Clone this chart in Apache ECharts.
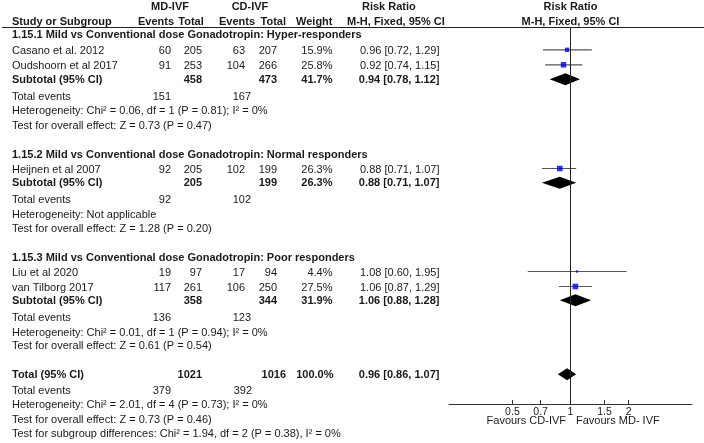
<!DOCTYPE html>
<html>
<head>
<meta charset="utf-8">
<script src="https://cdn.jsdelivr.net/npm/echarts@6/dist/echarts.min.js"></script>
<style>html,body{margin:0;padding:0;background:#fff}#c{width:704px;height:443px}</style>
</head>
<body>
<div id="c"></div>
<script>
// ---------- DATA ----------
const studies = ['Casano et al. 2012', 'Oudshoorn et al 2017', 'Heijnen et al 2007', 'Liu et al 2020', 'van Tilborg 2017'];
const studyGroup = [0, 0, 1, 2, 2];
const mdEvents = [60, 91, 92, 19, 117];
const mdTotal = [205, 253, 205, 97, 261];
const cdEvents = [63, 104, 102, 17, 106];
const cdTotal = [207, 266, 199, 94, 250];
const weights = [15.9, 25.8, 26.3, 4.4, 27.5];
const rr = [0.96, 0.92, 0.88, 1.08, 1.06];
const rrLow = [0.72, 0.74, 0.71, 0.60, 0.87];
const rrHigh = [1.29, 1.15, 1.07, 1.95, 1.29];

const groupTitles = [
  '1.15.1 Mild vs Conventional dose Gonadotropin: Hyper-responders',
  '1.15.2 Mild vs Conventional dose Gonadotropin: Normal responders',
  '1.15.3 Mild vs Conventional dose Gonadotropin: Poor responders'
];
const subMdTotal = [458, 205, 358];
const subCdTotal = [473, 199, 344];
const subWeight = [41.7, 26.3, 31.9];
const subRR = [0.94, 0.88, 1.06];
const subLow = [0.78, 0.71, 0.88];
const subHigh = [1.12, 1.07, 1.28];
const subMdEvents = [151, 92, 136];
const subCdEvents = [167, 102, 123];
const subHet = [
  'Heterogeneity: Chi² = 0.06, df = 1 (P = 0.81); I² = 0%',
  'Heterogeneity: Not applicable',
  'Heterogeneity: Chi² = 0.01, df = 1 (P = 0.94); I² = 0%'
];
const subTest = [
  'Test for overall effect: Z = 0.73 (P = 0.47)',
  'Test for overall effect: Z = 1.28 (P = 0.20)',
  'Test for overall effect: Z = 0.61 (P = 0.54)'
];
const totalMdTotal = 1021, totalCdTotal = 1016, totalWeight = 100.0;
const totalRR = 0.96, totalLow = 0.86, totalHigh = 1.07;
const totalMdEvents = 379, totalCdEvents = 392;
const totalHet = 'Heterogeneity: Chi² = 2.01, df = 4 (P = 0.73); I² = 0%';
const totalTest = 'Test for overall effect: Z = 0.73 (P = 0.46)';
const subgroupTest = 'Test for subgroup differences: Chi² = 1.94, df = 2 (P = 0.38), I² = 0%';
const tickValues = [0.5, 0.7, 1, 1.5, 2];
const favourLeft = 'Favours CD-IVF';
const favourRight = 'Favours MD- IVF';

// ---------- LAYOUT (pixel rows / columns) ----------
const groupRowY = [
  {title: 34.5, studies: [51.3, 66.3], sub: 79.7, events: 96.7, het: 111, test: 125.5},
  {title: 154.5, studies: [170], sub: 183.3, events: 200, het: 214.5, test: 229},
  {title: 258, studies: [273, 288], sub: 300.7, events: 317.5, het: 332.5, test: 346}
];
const totalRowY = {total: 374.7, events: 391, het: 405, test: 419.5, sub: 434};
const col = {name: 12, mdEv: 171, mdTot: 202, cdEv: 245, cdTot: 277, w: 332.5, rr: 439.5, mdEvSum: 171, cdEvSum: 251, cdTotAll: 286};
const FONT = "'Liberation Sans', Arial, sans-serif";
const FS = 11;
const TXT = '#1a1a1a';

const fmt2 = v => v.toFixed(2);
const ciText = (a, l, h) => fmt2(a) + ' [' + fmt2(l) + ', ' + fmt2(h) + ']';

const g = [];
function T(x, y, s, align, bold, fs) {
  g.push({type: 'text', x: x, y: y, silent: true, style: {
    text: String(s), fill: TXT, fontSize: fs || FS, fontFamily: FONT, fontWeight: bold ? 'bold' : 'normal',
    align: align || 'left', verticalAlign: 'middle'}});
}
// headers
T(170, 6.7, 'MD-IVF', 'center', true);
T(250, 6.7, 'CD-IVF', 'center', true);
T(362, 6.7, 'Risk Ratio', 'left', true);
T(570.5, 6.7, 'Risk Ratio', 'center', true);
T(col.name, 21.7, 'Study or Subgroup', 'left', true);
T(174, 21.7, 'Events', 'right', true);
T(191, 21.7, 'Total', 'center', true);
T(255, 21.7, 'Events', 'right', true);
T(286, 21.7, 'Total', 'right', true);
T(col.w, 21.7, 'Weight', 'right', true);
T(347, 21.7, 'M-H, Fixed, 95% CI', 'left', true);
T(570.5, 21.7, 'M-H, Fixed, 95% CI', 'center', true);
g.push({type: 'line', silent: true, shape: {x1: 2, y1: 27.5, x2: 704, y2: 27.5}, style: {stroke: '#222', lineWidth: 1}});

// study rows
const studyY = [];
const idxInGroup = [0, 0, 0];
studies.forEach((s, i) => {
  const gi = studyGroup[i];
  const y = groupRowY[gi].studies[idxInGroup[gi]++];
  studyY.push(y);
  T(col.name, y, s);
  T(col.mdEv, y, mdEvents[i], 'right');
  T(col.mdTot, y, mdTotal[i], 'right');
  T(col.cdEv, y, cdEvents[i], 'right');
  T(col.cdTot, y, cdTotal[i], 'right');
  T(col.w, y, weights[i].toFixed(1) + '%', 'right');
  T(col.rr, y, ciText(rr[i], rrLow[i], rrHigh[i]), 'right');
});
// groups
groupTitles.forEach((t, gi) => {
  const L = groupRowY[gi];
  T(col.name, L.title, t, 'left', true);
  T(col.name, L.sub, 'Subtotal (95% CI)', 'left', true);
  T(col.mdTot, L.sub, subMdTotal[gi], 'right', true);
  T(col.cdTot, L.sub, subCdTotal[gi], 'right', true);
  T(col.w, L.sub, subWeight[gi].toFixed(1) + '%', 'right', true);
  T(col.rr, L.sub, ciText(subRR[gi], subLow[gi], subHigh[gi]), 'right', true);
  T(col.name, L.events, 'Total events');
  T(col.mdEvSum, L.events, subMdEvents[gi], 'right');
  T(col.cdEvSum, L.events, subCdEvents[gi], 'right');
  T(col.name, L.het, subHet[gi]);
  T(col.name, L.test, subTest[gi]);
});
// total
T(col.name, totalRowY.total, 'Total (95% CI)', 'left', true);
T(col.mdTot, totalRowY.total, totalMdTotal, 'right', true);
T(col.cdTotAll, totalRowY.total, totalCdTotal, 'right', true);
T(col.w + 1, totalRowY.total, totalWeight.toFixed(1) + '%', 'right', true);
T(col.rr, totalRowY.total, ciText(totalRR, totalLow, totalHigh), 'right', true);
T(col.name, totalRowY.events, 'Total events');
T(col.mdEvSum, totalRowY.events, totalMdEvents, 'right');
T(col.cdEvSum + 1, totalRowY.events, totalCdEvents, 'right');
T(col.name, totalRowY.het, totalHet);
T(col.name, totalRowY.test, totalTest);
T(col.name, totalRowY.sub, subgroupTest);
// favours
T(566, 421.3, favourLeft, 'right');
T(576, 421.3, favourRight, 'left');

// ---------- SERIES DATA ----------
const ln = Math.log;
const ciData = studies.map((s, i) => [ln(rrLow[i]), ln(rrHigh[i]), studyY[i] - 1.5]);
const sqData = studies.map((s, i) => ({value: [ln(rr[i]), studyY[i] - 1.5], symbolSize: Math.sqrt(weights[i]) * 1.08}));
const diaData = groupTitles.map((t, gi) => [ln(subLow[gi]), ln(subRR[gi]), ln(subHigh[gi]), groupRowY[gi].sub - 0.5]);
diaData.push([ln(totalLow), ln(totalRR), ln(totalHigh), totalRowY.total - 0.5]);

const chart = echarts.init(document.getElementById('c'), null, {renderer: 'canvas'});
chart.setOption({
  animation: false,
  backgroundColor: '#fff',
  textStyle: {fontFamily: FONT},
  grid: {left: 449, right: 12, top: 27.5, bottom: 39},
  xAxis: {
    type: 'value', min: -1.45, max: 1.45,
    axisLine: {lineStyle: {color: '#333', width: 1}},
    axisTick: {inside: true, length: 4, lineStyle: {color: '#333'}, customValues: tickValues.map(v => ln(v))},
    axisLabel: {margin: 3, color: TXT, fontSize: 10.5, fontFamily: FONT,
      customValues: tickValues.map(v => ln(v)),
      formatter: v => String(Math.round(Math.exp(v) * 10) / 10)},
    splitLine: {show: false}
  },
  yAxis: {type: 'value', inverse: true, min: 27.5, max: 404, show: false},
  series: [
    {
      type: 'custom', name: 'ci', z: 2,
      renderItem: (params, api) => {
        const p1 = api.coord([api.value(0), api.value(2)]);
        const p2 = api.coord([api.value(1), api.value(2)]);
        return {type: 'line', shape: {x1: p1[0], y1: p1[1], x2: p2[0], y2: p2[1]}, style: {stroke: '#555', lineWidth: 1.2}};
      },
      data: ciData,
      markLine: {
        silent: true, symbol: 'none', label: {show: false},
        lineStyle: {color: '#222', width: 1, type: 'solid'},
        data: [{xAxis: 0}]
      }
    },
    {
      type: 'scatter', name: 'rr', z: 3, symbol: 'rect',
      itemStyle: {color: '#0000cc'},
      data: sqData
    },
    {
      type: 'custom', name: 'diamond', z: 3,
      renderItem: (params, api) => {
        const y = api.value(3);
        const pl = api.coord([api.value(0), y]);
        const pc = api.coord([api.value(1), y]);
        const ph = api.coord([api.value(2), y]);
        const h = 6;
        return {type: 'polygon', shape: {points: [[pl[0], pl[1]], [pc[0], pc[1] - h], [ph[0], ph[1]], [pc[0], pc[1] + h]]}, style: {fill: '#000'}};
      },
      data: diaData
    }
  ],
  graphic: g
});
</script>
</body>
</html>
